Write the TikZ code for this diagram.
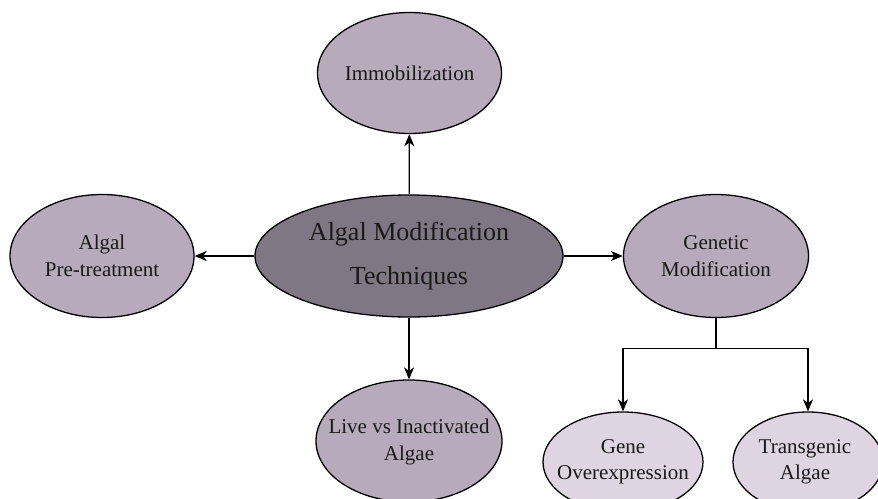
\documentclass[tikz,border=0pt]{standalone}
\usepackage{fontspec}
\setmainfont{Liberation Serif}
\usetikzlibrary{shapes.geometric,arrows.meta}
\definecolor{outerfill}{HTML}{B6AABB}
\definecolor{centerfill}{HTML}{7F7783}
\definecolor{leaffill}{HTML}{DFD5E2}
\begin{document}
\begin{tikzpicture}[x=1pt,y=1pt,
  bub/.style={ellipse, draw=black, line width=1.3pt, inner sep=0pt},
  outerbub/.style={bub, fill=outerfill},
  leafbub/.style={bub, fill=leaffill},
  hubbub/.style={bub, fill=centerfill},
  txt/.style={align=center, inner sep=0pt, text=black!90, font=\fontsize{21}{26.5}\selectfont},
  hubtxt/.style={txt, font=\fontsize{26}{44}\selectfont},
  conn/.style={line width=1.3pt, -{Stealth[length=12pt,width=10pt,inset=3.5pt]}},
  plain/.style={line width=1.3pt}]
\useasboundingbox (0,0) rectangle (878,-498);
\node[hubbub, minimum width=308pt, minimum height=122pt] (hub) at (409,-256) {};
\node[hubtxt] (hubt) at (hub) {Algal Modification\\Techniques};
\node[outerbub, minimum width=184pt, minimum height=121pt] (immo) at (409.5,-73) {};
\node[txt] (immot) at (immo) {Immobilization};
\node[outerbub, minimum width=184pt, minimum height=123pt] (pre) at (102,-256) {};
\node[txt] (pret) at (pre) {Algal\\Pre-treatment};
\node[outerbub, minimum width=185pt, minimum height=123pt] (gen) at (716,-256) {};
\node[txt] (gent) at (gen) {Genetic\\Modification};
\node[outerbub, minimum width=186pt, minimum height=122pt] (live) at (409,-441) {};
\node[txt] (livet) at ([yshift=-1pt]live.center) {Live vs Inactivated\\Algae};
\node[leafbub, minimum width=160pt, minimum height=100pt] (geneo) at (623,-462) {};
\node[txt] (geneot) at (geneo) {Gene\\Overexpression};
\node[leafbub, minimum width=150pt, minimum height=100pt] (trans) at (808,-462) {};
\node[txt] (transt) at ([xshift=-3pt]trans.center) {Transgenic\\Algae};
\draw[conn] (hub) -- (immo);
\draw[conn] (hub) -- (pre);
\draw[conn] (hub) -- (gen);
\draw[conn] (hub) -- (live);
\draw[plain] (gen.south) -- ++(0,-30.5) coordinate (split);
\draw[conn] (split) -| (geneo.north);
\draw[conn] (split) -| (trans.north);
\end{tikzpicture}
\end{document}
